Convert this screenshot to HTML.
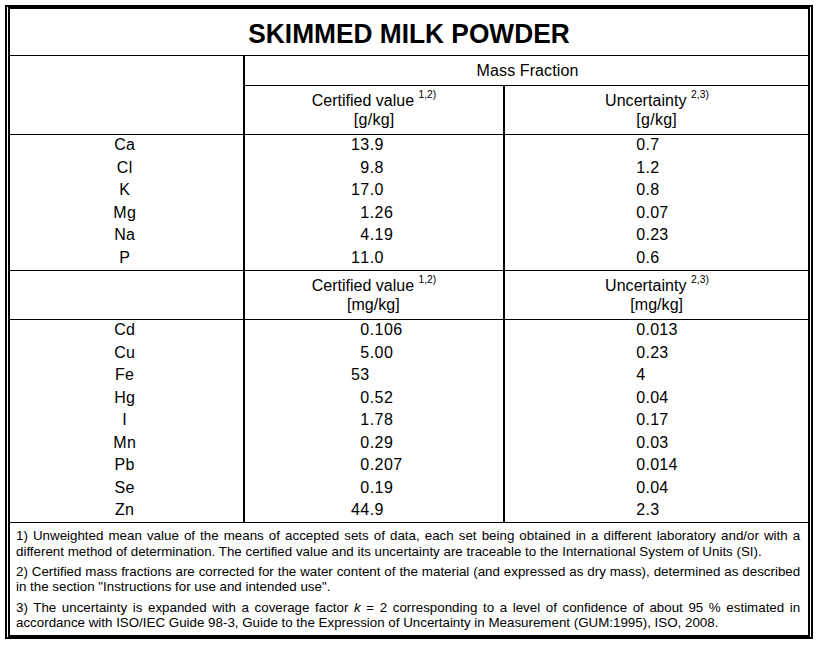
<!DOCTYPE html><html><head><meta charset="utf-8"><title>Skimmed Milk Powder</title><style>
html,body{margin:0;padding:0;background:#fff;}
body{width:817px;height:646px;position:relative;overflow:hidden;font-family:"Liberation Sans",sans-serif;color:#000;}
.l{position:absolute;background:#000;}
.w{position:absolute;background:#fff;}
.t{position:absolute;white-space:nowrap;font-size:16px;line-height:18px;height:18px;}
.c{text-align:center;}
.k{font-kerning:none;}
.sup{font-size:10.3px;position:relative;top:-8px;}
.title{position:absolute;left:9.5px;width:798px;text-align:center;font-weight:bold;font-size:27.4px;line-height:30px;white-space:nowrap;transform:scaleX(0.960);transform-origin:50% 50%;}
.fn{position:absolute;left:16px;width:784.2px;font-size:13.35px;line-height:15.4px;text-align:justify;}
</style></head><body>
<div class="l" style="left:5px;top:5px;width:808px;height:4px"></div>
<div class="l" style="left:5px;top:635px;width:808px;height:4px"></div>
<div class="l" style="left:5px;top:5px;width:5px;height:634px"></div>
<div class="l" style="left:808px;top:5px;width:5px;height:634px"></div>
<div class="w" style="left:7px;top:7px;width:1px;height:630px"></div>
<div class="w" style="left:810px;top:7px;width:1px;height:630px"></div>
<div class="l" style="left:10px;top:55px;width:798px;height:1px"></div>
<div class="l" style="left:244px;top:85px;width:564px;height:1px"></div>
<div class="l" style="left:10px;top:134px;width:798px;height:1px"></div>
<div class="l" style="left:10px;top:270px;width:798px;height:1px"></div>
<div class="l" style="left:10px;top:319px;width:798px;height:1px"></div>
<div class="l" style="left:10px;top:522px;width:798px;height:1px"></div>
<div class="l" style="left:243px;top:55px;width:2px;height:468px"></div>
<div class="l" style="left:503px;top:85px;width:2px;height:438px"></div>
<div class="title" style="top:19px">SKIMMED MILK POWDER</div>
<div class="t c" style="left:246px;width:563px;top:62px;letter-spacing:0.1px;">Mass Fraction</div>
<div class="t c" style="left:245px;width:258px;top:92px;">Certified value <span class="sup">1,2)</span></div>
<div class="t c" style="left:245.2px;width:258px;top:111px;letter-spacing:0.25px;">[g/kg]</div>
<div class="t c" style="left:505.5px;width:303px;top:92px;letter-spacing:0.05px;">Uncertainty <span class="sup">2,3)</span></div>
<div class="t c" style="left:505.2px;width:303px;top:111px;letter-spacing:0.25px;">[g/kg]</div>
<div class="t c" style="left:245px;width:258px;top:277px;">Certified value <span class="sup">1,2)</span></div>
<div class="t c" style="left:244.4px;width:258px;top:296px;letter-spacing:0.05px;">[mg/kg]</div>
<div class="t c" style="left:505.5px;width:303px;top:277px;letter-spacing:0.05px;">Uncertainty <span class="sup">2,3)</span></div>
<div class="t c" style="left:505.2px;width:303px;top:296px;letter-spacing:0.05px;">[mg/kg]</div>
<div class="t c" style="left:8.2px;width:233px;top:136px;letter-spacing:0.3px;">Ca</div>
<div class="t k" style="left:351.0px;top:136px;letter-spacing:0.45px">13.9</div>
<div class="t k" style="left:636.2px;top:136px;letter-spacing:0.3px">0.7</div>
<div class="t c" style="left:8.2px;width:233px;top:159px;letter-spacing:0.3px;">Cl</div>
<div class="t k" style="left:360.35px;top:159px;letter-spacing:0.45px">9.8</div>
<div class="t k" style="left:636.2px;top:159px;letter-spacing:0.3px">1.2</div>
<div class="t c" style="left:8.2px;width:233px;top:181px;letter-spacing:0.3px;">K</div>
<div class="t k" style="left:351.0px;top:181px;letter-spacing:0.45px">17.0</div>
<div class="t k" style="left:636.2px;top:181px;letter-spacing:0.3px">0.8</div>
<div class="t c" style="left:8.2px;width:233px;top:204px;letter-spacing:0.3px;">Mg</div>
<div class="t k" style="left:360.35px;top:204px;letter-spacing:0.45px">1.26</div>
<div class="t k" style="left:636.2px;top:204px;letter-spacing:0.3px">0.07</div>
<div class="t c" style="left:8.2px;width:233px;top:226px;letter-spacing:0.3px;">Na</div>
<div class="t k" style="left:360.35px;top:226px;letter-spacing:0.45px">4.19</div>
<div class="t k" style="left:636.2px;top:226px;letter-spacing:0.3px">0.23</div>
<div class="t c" style="left:8.2px;width:233px;top:249px;letter-spacing:0.3px;">P</div>
<div class="t k" style="left:351.0px;top:249px;letter-spacing:0.45px">11.0</div>
<div class="t k" style="left:636.2px;top:249px;letter-spacing:0.3px">0.6</div>
<div class="t c" style="left:8.2px;width:233px;top:321px;letter-spacing:0.3px;">Cd</div>
<div class="t k" style="left:360.35px;top:321px;letter-spacing:0.45px">0.106</div>
<div class="t k" style="left:636.2px;top:321px;letter-spacing:0.3px">0.013</div>
<div class="t c" style="left:8.2px;width:233px;top:344px;letter-spacing:0.3px;">Cu</div>
<div class="t k" style="left:360.35px;top:344px;letter-spacing:0.45px">5.00</div>
<div class="t k" style="left:636.2px;top:344px;letter-spacing:0.3px">0.23</div>
<div class="t c" style="left:8.2px;width:233px;top:366px;letter-spacing:0.3px;">Fe</div>
<div class="t k" style="left:351.0px;top:366px;letter-spacing:0.45px">53</div>
<div class="t k" style="left:636.2px;top:366px;letter-spacing:0.3px">4</div>
<div class="t c" style="left:8.2px;width:233px;top:389px;letter-spacing:0.3px;">Hg</div>
<div class="t k" style="left:360.35px;top:389px;letter-spacing:0.45px">0.52</div>
<div class="t k" style="left:636.2px;top:389px;letter-spacing:0.3px">0.04</div>
<div class="t c" style="left:8.2px;width:233px;top:411px;letter-spacing:0.3px;">I</div>
<div class="t k" style="left:360.35px;top:411px;letter-spacing:0.45px">1.78</div>
<div class="t k" style="left:636.2px;top:411px;letter-spacing:0.3px">0.17</div>
<div class="t c" style="left:8.2px;width:233px;top:434px;letter-spacing:0.3px;">Mn</div>
<div class="t k" style="left:360.35px;top:434px;letter-spacing:0.45px">0.29</div>
<div class="t k" style="left:636.2px;top:434px;letter-spacing:0.3px">0.03</div>
<div class="t c" style="left:8.2px;width:233px;top:456px;letter-spacing:0.3px;">Pb</div>
<div class="t k" style="left:360.35px;top:456px;letter-spacing:0.45px">0.207</div>
<div class="t k" style="left:636.2px;top:456px;letter-spacing:0.3px">0.014</div>
<div class="t c" style="left:8.2px;width:233px;top:479px;letter-spacing:0.3px;">Se</div>
<div class="t k" style="left:360.35px;top:479px;letter-spacing:0.45px">0.19</div>
<div class="t k" style="left:636.2px;top:479px;letter-spacing:0.3px">0.04</div>
<div class="t c" style="left:8.2px;width:233px;top:501px;letter-spacing:0.3px;">Zn</div>
<div class="t k" style="left:351.0px;top:501px;letter-spacing:0.45px">44.9</div>
<div class="t k" style="left:636.2px;top:501px;letter-spacing:0.3px">2.3</div>
<div class="fn" style="top:528px;line-height:15.6px">1) Unweighted mean value of the means of accepted sets of data, each set being obtained in a different laboratory and/or with a different method of determination. The certified value and its uncertainty are traceable to the International System of Units (SI).</div>
<div class="fn" style="top:563.5px">2) Certified mass fractions are corrected for the water content of the material (and expressed as dry mass), determined as described in the section "Instructions for use and intended use".</div>
<div class="fn" style="top:600px;line-height:15px">3) The uncertainty is expanded with a coverage factor <i>k</i> = 2 corresponding to a level of confidence of about 95 % estimated in accordance with ISO/IEC Guide 98-3, Guide to the Expression of Uncertainty in Measurement (GUM:1995), ISO, 2008.</div>
</body></html>
